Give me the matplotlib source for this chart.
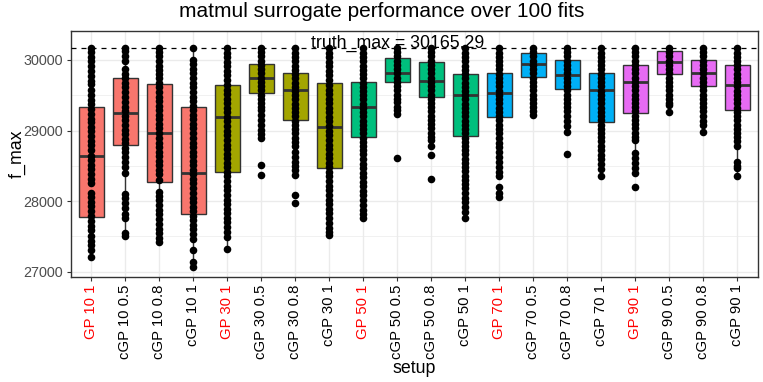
import numpy as np
import matplotlib.pyplot as plt

plt.rcParams['font.family'] = ['Liberation Sans', 'DejaVu Sans']

# setups (x axis)
setups = ["GP 10 1", "cGP 10 0.5", "cGP 10 0.8", "cGP 10 1",
          "GP 30 1", "cGP 30 0.5", "cGP 30 0.8", "cGP 30 1",
          "GP 50 1", "cGP 50 0.5", "cGP 50 0.8", "cGP 50 1",
          "GP 70 1", "cGP 70 0.5", "cGP 70 0.8", "cGP 70 1",
          "GP 90 1", "cGP 90 0.5", "cGP 90 0.8", "cGP 90 1"]
groups = ["10", "30", "50", "70", "90"]
group_colors = ["#F8766D", "#A3A500", "#00BF7D", "#00B0F6", "#E76BF3"]

truth_max = 30165.29

# box statistics
q3 = [29334, 29740, 29655, 29334, 29641, 29939, 29816, 29674, 29684, 30024,
      29972, 29806, 29816, 30104, 29995, 29816, 29929, 30132, 30005, 29929]
med = [28640, 29254, 28966, 28399, 29188, 29750, 29570, 29055, 29334, 29821,
       29707, 29509, 29528, 29939, 29787, 29580, 29688, 29972, 29811, 29650]
q1 = [27780, 28791, 28276, 27818, 28418, 29532, 29150, 28474, 28914, 29684,
      29481, 28919, 29192, 29759, 29585, 29117, 29254, 29802, 29627, 29292]
whislo = [27213, 27510, 27425, 27072, 27317, 28900, 28370, 27520, 27757, 29230,
          28870, 27760, 28350, 29225, 28985, 28360, 28370, 29360, 29080, 28360]

# visible f_max points per setup
pts = [
    [30165, 30110, 30040, 29985, 29910, 29850, 29770, 29700, 29655, 29580, 29500, 29430, 29370, 29310, 29240,
     29170, 29120, 29050, 28990, 28920, 28850, 28790, 28720, 28640, 28580, 28510, 28450, 28380, 28310, 28250,
     28120, 28060, 27990, 27930, 27860, 27790, 27720, 27650, 27590, 27510, 27440, 27380, 27300, 27213],
    [30165, 30120, 30050, 29980, 29870, 29800, 29740, 29680, 29610, 29540, 29480, 29400, 29340, 29270, 29200,
     29150, 29080, 29010, 28950, 28880, 28820, 28750, 28690, 28620, 28550, 28480, 28400, 28100, 28040, 27970,
     27900, 27820, 27760, 27545, 27510],
    [30165, 30110, 30050, 29990, 29920, 29860, 29800, 29740, 29670, 29610, 29550, 29480, 29420, 29350, 29290,
     29220, 29160, 29090, 29030, 28960, 28900, 28830, 28770, 28700, 28640, 28570, 28510, 28440, 28380, 28300,
     28135, 28070, 28010, 27940, 27880, 27810, 27750, 27680, 27610, 27550, 27480, 27425],
    [30165, 30000, 29940, 29870, 29810, 29740, 29680, 29610, 29550, 29480, 29420, 29350, 29290, 29220, 29160,
     29090, 29030, 28960, 28900, 28830, 28770, 28700, 28640, 28570, 28510, 28440, 28380, 28310, 28250, 28180,
     28120, 28050, 27990, 27920, 27860, 27790, 27730, 27660, 27600, 27530, 27460, 27305, 27140, 27072],
    [30165, 30100, 30040, 29970, 29910, 29840, 29780, 29710, 29650, 29580, 29520, 29450, 29390, 29320, 29260,
     29190, 29130, 29060, 29000, 28930, 28870, 28800, 28740, 28670, 28610, 28540, 28480, 28410, 28350, 28280,
     28220, 28150, 28090, 28020, 27960, 27890, 27830, 27760, 27700, 27630, 27560, 27490, 27317],
    [30165, 30110, 30050, 29990, 29930, 29870, 29810, 29750, 29690, 29630, 29570, 29510, 29450, 29390, 29330,
     29290, 29220, 29150, 29080, 29010, 28950, 28900, 28512, 28370],
    [30165, 30105, 30040, 29980, 29920, 29860, 29800, 29740, 29680, 29620, 29560, 29500, 29440, 29380, 29320,
     29260, 29200, 29140, 29080, 29020, 28960, 28900, 28840, 28780, 28700, 28630, 28560, 28500, 28440, 28370,
     28090, 27975],
    [30165, 30100, 30040, 29970, 29910, 29840, 29780, 29710, 29650, 29580, 29520, 29450, 29390, 29320, 29260,
     29190, 29130, 29060, 29000, 28930, 28870, 28800, 28740, 28670, 28610, 28540, 28480, 28410, 28350, 28280,
     28220, 28150, 28090, 28020, 27960, 27890, 27830, 27760, 27690, 27620, 27560, 27520],
    [30165, 30105, 30040, 29980, 29920, 29860, 29800, 29740, 29680, 29620, 29560, 29500, 29440, 29380, 29320,
     29260, 29200, 29140, 29080, 29020, 28960, 28900, 28840, 28780, 28720, 28660, 28600, 28530, 28470, 28400,
     28340, 28270, 28210, 28140, 28080, 28010, 27950, 27880, 27810, 27757],
    [30165, 30110, 30050, 29990, 29930, 29870, 29810, 29750, 29690, 29630, 29570, 29510, 29450, 29400, 29340,
     29290, 29230, 28605],
    [30165, 30110, 30050, 29990, 29930, 29870, 29810, 29750, 29690, 29630, 29570, 29510, 29450, 29390, 29330,
     29270, 29210, 29150, 29090, 29030, 28970, 28910, 28870, 28780, 28655, 28310],
    [30165, 30105, 30045, 29980, 29920, 29860, 29800, 29740, 29680, 29620, 29560, 29500, 29440, 29380, 29320,
     29260, 29200, 29140, 29080, 29020, 28960, 28900, 28840, 28780, 28720, 28660, 28600, 28540, 28480, 28420,
     28360, 28300, 28240, 28180, 28110, 28050, 27990, 27920, 27840, 27760],
    [30165, 30105, 30045, 29985, 29925, 29865, 29805, 29745, 29685, 29625, 29565, 29505, 29445, 29385, 29325,
     29265, 29205, 29145, 29085, 29020, 28960, 28900, 28830, 28760, 28690, 28620, 28550, 28480, 28410, 28350,
     28205, 28110, 28063],
    [30165, 30110, 30050, 29990, 29930, 29870, 29810, 29750, 29690, 29630, 29570, 29510, 29450, 29390, 29340,
     29280, 29225],
    [30165, 30110, 30050, 29990, 29930, 29870, 29810, 29750, 29690, 29630, 29570, 29510, 29450, 29390, 29330,
     29270, 29200, 29130, 29060, 28985, 28665],
    [30165, 30105, 30045, 29985, 29925, 29865, 29805, 29745, 29685, 29625, 29565, 29505, 29445, 29385, 29325,
     29265, 29205, 29145, 29085, 29025, 28965, 28905, 28845, 28780, 28720, 28650, 28590, 28520, 28450, 28360],
    [30165, 30110, 30050, 29990, 29930, 29870, 29810, 29750, 29690, 29630, 29570, 29510, 29450, 29390, 29330,
     29270, 29210, 29150, 29090, 29030, 28970, 28910, 28870, 28680, 28610, 28540, 28470, 28400, 28205],
    [30165, 30110, 30050, 29990, 29930, 29870, 29810, 29750, 29690, 29630, 29570, 29510, 29450, 29390, 29360,
     29265],
    [30165, 30110, 30050, 29990, 29930, 29870, 29810, 29750, 29690, 29630, 29570, 29510, 29450, 29390, 29330,
     29270, 29200, 29140, 29080, 28985],
    [30165, 30105, 30045, 29985, 29925, 29865, 29805, 29745, 29685, 29625, 29565, 29505, 29445, 29385, 29325,
     29265, 29205, 29145, 29085, 29025, 28965, 28905, 28845, 28780, 28560, 28500, 28465, 28360],
]

pos = np.arange(1, len(setups) + 1)

fig, ax = plt.subplots(figsize=(7.63, 3.82), dpi=100)
fig.subplots_adjust(left=0.093, right=0.993, top=0.919, bottom=0.276)

stats = []
for i in range(len(setups)):
    stats.append(dict(med=med[i], q1=q1[i], q3=q3[i], whislo=whislo[i],
                      whishi=max(pts[i]), fliers=[]))

edge = "#333333"
bp = ax.bxp(stats, positions=pos, widths=0.75, patch_artist=True, showcaps=False,
            boxprops=dict(edgecolor=edge, linewidth=1.0),
            whiskerprops=dict(color=edge, linewidth=1.0),
            medianprops=dict(color=edge, linewidth=2.0))
for i, box in enumerate(bp['boxes']):
    box.set_facecolor(group_colors[i // 4])
    box.set_zorder(2)
for w in bp['whiskers']:
    w.set_zorder(1.5)
for m in bp['medians']:
    m.set_zorder(2.5)

for i, p in enumerate(pts):
    ax.scatter(np.full(len(p), pos[i]), p, s=30, color="black", zorder=3, linewidths=0)

ax.axhline(truth_max, color="black", linestyle=(0, (4, 4)), linewidth=0.9, zorder=4)
ax.text(10, truth_max, f"truth_max = {truth_max}", ha="center", va="baseline",
        fontsize=12.8, color="black", zorder=5)

ax.set_xlim(0.4, 20.6)
ax.set_ylim(26930, 30411)
ax.set_yticks([27000, 28000, 29000, 30000])
ax.set_yticks([27500, 28500, 29500], minor=True)
ax.set_xticks(pos)
ax.set_xticklabels(setups, rotation=90, ha="center", va="top")
for lab in ax.get_xticklabels():
    lab.set_color("red" if lab.get_text().startswith("GP") else "black")

ax.set_axisbelow(True)
ax.grid(which="major", color="#EBEBEB", linewidth=1.0)
ax.grid(which="minor", axis="y", color="#EBEBEB", linewidth=0.5)
ax.tick_params(axis="both", which="major", length=3, color=edge, width=0.8, pad=2.5)
ax.tick_params(axis="x", labelsize=10.7)
ax.tick_params(axis="y", labelcolor="#4D4D4D", labelsize=10.4)
ax.tick_params(which="minor", length=0)
for s in ax.spines.values():
    s.set_color(edge)
    s.set_linewidth(1.0)

ax.set_xlabel("setup", fontsize=12.8, labelpad=1)
ax.set_ylabel("f_max", fontsize=12.8)
ax.yaxis.set_label_coords(-0.066, 0.5)
fig.suptitle("matmul surrogate performance over 100 fits", fontsize=15, x=0.5, y=0.995)

fig.savefig("out.png", dpi=100)
